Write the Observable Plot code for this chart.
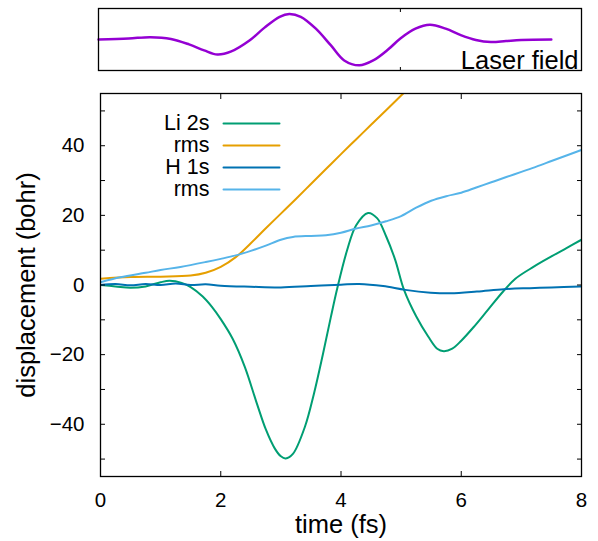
<!DOCTYPE html>
<html><head><meta charset="utf-8">
<script src="https://cdn.jsdelivr.net/npm/d3@7"></script>
<script src="https://cdn.jsdelivr.net/npm/@observablehq/plot@0.6"></script>
<style>body{margin:0;background:#fff;} #chart svg{display:block;}</style>
</head><body><div id="chart"></div>
<script>
// ---- data ----
const laserT = [0, 0.5, 0.86, 1.2, 1.5, 1.75, 1.97, 2.2, 2.5, 2.75, 3.0, 3.16, 3.35, 3.6, 3.85, 4.07, 4.32, 4.55, 4.8, 5.0, 5.25, 5.49, 5.75, 6.0, 6.25, 6.5, 6.75, 7.0, 7.5];
const laserE = [0, 0.04, 0.09, 0.02, -0.19, -0.42, -0.58, -0.46, -0.04, 0.46, 0.88, 0.99, 0.88, 0.42, -0.23, -0.81, -1.0, -0.81, -0.38, 0.04, 0.42, 0.57, 0.42, 0.17, -0.02, -0.1, -0.06, -0.02, 0];

const li2sT = [0, 0.25, 0.5, 0.75, 1.0, 1.15, 1.35, 1.5, 1.7, 1.85, 2.0, 2.2, 2.4, 2.6, 2.75, 2.9, 3.0, 3.08, 3.2, 3.4, 3.55, 3.7, 3.83, 3.94, 4.1, 4.25, 4.45, 4.6, 4.75, 4.9, 5.05, 5.25, 5.45, 5.6, 5.71, 5.85, 6.0, 6.2, 6.45, 6.7, 6.9, 7.2, 7.5, 7.75, 8.0];
const li2s  = [0, -0.4, -0.8, -0.4, 0.8, 1.2, 0.6, -0.6, -3.3, -6.2, -9.8, -15.5, -23.5, -34, -41.5, -47, -49.2, -49.8, -48.5, -40.7, -31.2, -19.8, -9.3, -0.8, 9.9, 17.1, 20.7, 19.2, 14, 7.3, -1.5, -9, -14.8, -18.3, -19, -18.3, -16, -12.2, -7, -1.8, 1.8, 5.2, 8.2, 10.6, 13];

const liRmsT = [0, 0.5, 1.0, 1.5, 1.75, 2.0, 2.25, 2.5, 2.75, 3.0, 3.25, 3.5, 3.75, 4.0, 4.25, 4.5, 4.75, 5.0, 5.25];
const liRms  = [1.8, 2.3, 2.4, 2.7, 3.5, 5.2, 8.0, 12.0, 16.3, 20.5, 24.7, 29.0, 33.3, 37.6, 41.8, 46.0, 50.2, 54.4, 58.6];

const h1sT = [0, 0.25, 0.5, 0.75, 1.0, 1.25, 1.5, 1.75, 2.0, 2.5, 3.0, 3.5, 4.0, 4.3, 4.7, 5.07, 5.49, 5.82, 6.26, 6.71, 7.14, 7.5, 7.98];
const h1s  = [0, 0.3, -0.1, 0.3, 0.0, 0.4, 0.0, 0.2, -0.2, -0.5, -0.7, -0.3, 0.1, 0.3, -0.3, -1.4, -2.2, -2.4, -1.9, -1.2, -0.9, -0.7, -0.4];

const hRmsT = [0, 0.33, 0.75, 1.0, 1.33, 1.75, 2.0, 2.25, 2.5, 2.75, 3.0, 3.2, 3.5, 3.75, 4.0, 4.25, 4.5, 4.75, 5.0, 5.25, 5.5, 5.75, 6.0, 6.25, 6.5, 6.75, 7.0, 7.25, 7.5, 7.75, 8.0];
const hRms  = [0.8, 2.2, 3.5, 4.3, 5.2, 6.6, 7.5, 8.5, 9.8, 11.3, 13.0, 13.8, 14.1, 14.3, 15.0, 16.2, 17.1, 18.3, 19.8, 22.2, 24.2, 25.5, 26.5, 28.0, 29.5, 31.0, 32.5, 34.0, 35.6, 37.2, 38.8];

const legendLabels = ["Li 2s", "rms", "H 1s", "rms"];
const seriesColors = ["#009e73", "#e69f00", "#0072b2", "#56b4e9"];
const xTickLabels = [0, 2, 4, 6, 8];
const yTickLabels = [-40, -20, 0, 20, 40];
const yTickMarks = [-50, -40, -30, -20, -10, 0, 10, 20, 30, 40, 50];
const topTicks = [5];

// ---- build ----
const FONT = "Liberation Sans, Arial, Helvetica, sans-serif";
const zip = (T, V) => T.map((t, i) => ({t, v: V[i]}));
const series = [zip(li2sT, li2s), zip(liRmsT, liRms), zip(h1sT, h1s), zip(hRmsT, hRms)];
const lineShape = {draw(ctx, l) { ctx.moveTo(0, 0); ctx.lineTo(0, -l); }};

const topPlot = Plot.plot({
  width: 598, height: 80,
  marginLeft: 98, marginRight: 17, marginTop: 8, marginBottom: 10,
  x: {domain: [0, 8], axis: null},
  y: {domain: [-1.2, 1.2], axis: null},
  style: {fontFamily: FONT, fontSize: "20px", background: "white", color: "black", overflow: "visible"},
  marks: [
    Plot.line(zip(laserT, laserE), {x: "t", y: "v", stroke: "#9400d3", strokeWidth: 2.5, curve: "catmull-rom"}),
    Plot.axisX(topTicks, {anchor: "bottom", tickSize: -3, fill: "none", label: null}),
    Plot.axisX(topTicks, {anchor: "top", tickSize: -3, fill: "none", label: null}),
    Plot.text(["Laser field"], {text: d => d, frameAnchor: "bottom-right", textAnchor: "end", lineAnchor: "bottom", dx: -3, dy: -2, fontSize: 25.5, fill: "black"}),
    Plot.frame({stroke: "black", strokeWidth: 1.3})
  ]
});

const mainPlot = Plot.plot({
  width: 598, height: 461,
  marginLeft: 100, marginRight: 17, marginTop: 13, marginBottom: 65,
  x: {domain: [0, 8], axis: null},
  y: {domain: [-55, 55], axis: null},
  style: {fontFamily: FONT, fontSize: "20.5px", background: "white", color: "black", overflow: "visible"},
  marks: [
    ...series.map((s, i) => Plot.line(s, {x: "t", y: "v", stroke: seriesColors[i], strokeWidth: 2, curve: "catmull-rom", clip: true})),
    // inward tick marks
    Plot.axisY(yTickMarks, {anchor: "left", tickSize: -5, fill: "none", label: null}),
    Plot.axisY(yTickMarks, {anchor: "right", tickSize: -5, fill: "none", label: null}),
    Plot.axisX(xTickLabels, {anchor: "bottom", tickSize: -5, fill: "none", label: null}),
    Plot.axisX(xTickLabels, {anchor: "top", tickSize: -5, fill: "none", label: null}),
    // tick labels
    Plot.axisY(yTickLabels, {anchor: "left", tickSize: 0, tickPadding: 16, label: null, fontSize: 20.5}),
    Plot.axisX(xTickLabels, {anchor: "bottom", tickSize: 0, tickPadding: 16, label: null, fontSize: 20.5}),
    // axis titles
    Plot.text(["displacement (bohr)"], {text: d => d, frameAnchor: "left", rotate: -90, dx: -74, textAnchor: "middle", lineAnchor: "middle", fontSize: 25.5, fill: "black"}),
    Plot.text(["time (fs)"], {text: d => d, frameAnchor: "bottom", dy: 56, textAnchor: "middle", lineAnchor: "bottom", fontSize: 25.5, fill: "black"}),
    // legend
    ...legendLabels.map((lab, i) => Plot.text([lab], {text: d => d, frameAnchor: "top-left", dx: 109, dy: 30 + 22 * i, textAnchor: "end", lineAnchor: "middle", fontSize: 21.5, fill: "black"})),
    ...seriesColors.map((c, i) => Plot.vector([c], {frameAnchor: "top-left", dx: 123, dy: 30 + 22 * i, rotate: 90, length: 56, anchor: "start", shape: lineShape, stroke: c, strokeWidth: 2})),
    Plot.frame({stroke: "black", strokeWidth: 1.3})
  ]
});

const chart = document.getElementById("chart");
chart.appendChild(topPlot);
chart.appendChild(mainPlot);
</script></body></html>
